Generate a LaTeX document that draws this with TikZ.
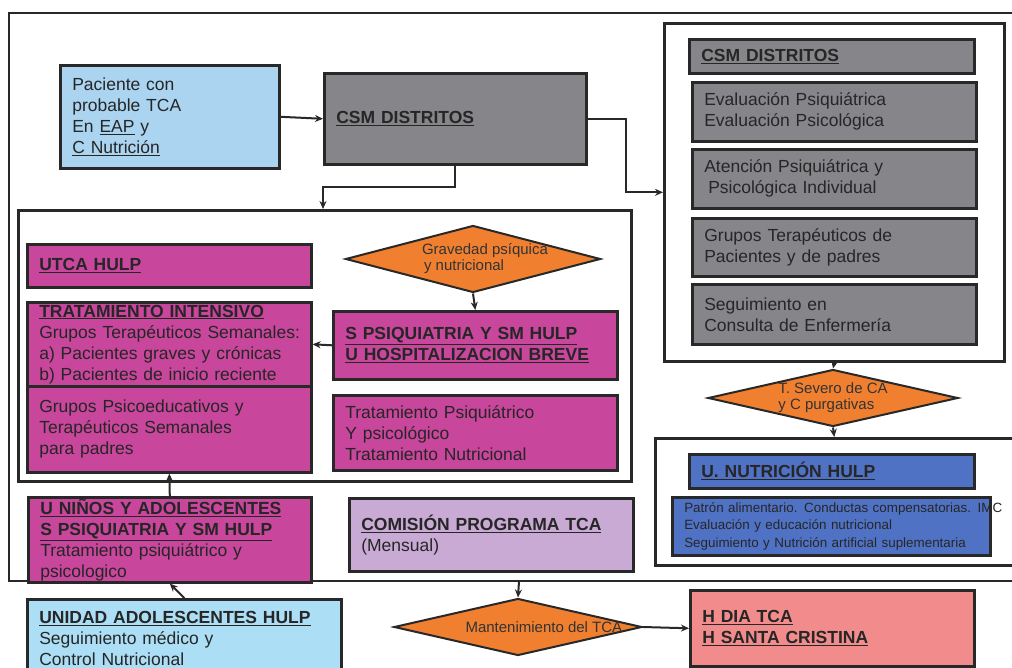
\documentclass[tikz,border=0pt]{standalone}
\usepackage{fontspec}
\setmainfont{Liberation Sans}
\usetikzlibrary{positioning,shapes,arrows,arrows.meta,calc}

\definecolor{borde}{RGB}{40,40,40}
\definecolor{azulclaro}{RGB}{170,212,240}
\definecolor{azulado}{RGB}{172,222,246}
\definecolor{gris}{RGB}{134,134,138}
\definecolor{magenta}{RGB}{200,70,155}
\definecolor{naranja}{RGB}{240,128,48}
\definecolor{lila}{RGB}{200,170,212}
\definecolor{azulnut}{RGB}{80,114,196}
\definecolor{rosa}{RGB}{242,140,140}

\newcommand{\titulo}[1]{\textbf{\underline{#1}}}
% texto corrido a la derecha dentro de un rombo
\newcommand{\corrido}[3]{\makebox[#1][l]{\hspace*{#2}#3}}

\begin{document}
\begin{tikzpicture}[x=1pt, y=-1pt,
    caja/.style={rectangle, draw=borde, line width=2.6pt, anchor=north west, align=left,
        inner xsep=12pt, inner ysep=0pt, text=black!85, font=\fontsize{17.5}{21}\selectfont},
    marco/.style={rectangle, draw=borde, line width=2.6pt, fill=white, anchor=north west, inner sep=0pt},
    decision/.style={diamond, draw=borde, line width=2pt, fill=naranja, inner sep=0pt, align=left,
        text=black!80, font=\fontsize{15}{16}\selectfont},
    flecha/.style={->, >={Stealth[length=8pt,width=7pt]}, line width=2pt, draw=borde}
]
    \useasboundingbox (0,0) rectangle (1012,668);

    % marco general
    \draw[borde, line width=2.6pt] (1012,13) -- (9,13) -- (9,581) -- (1012,581);

    \node[marco, minimum width=340pt, minimum height=338pt] (marcoder) at (663,22) {};
    \node[marco, minimum width=613pt, minimum height=271pt] (marcoizq) at (17,209) {};
    \node[marco, minimum width=358pt, minimum height=127pt] (marconut) at (654,437) {};

    % entrada
    \node[caja, fill=azulclaro, text width=195pt, minimum height=103pt] (paciente) at (59,64) {
        Paciente con\\
        probable TCA\\
        En \underline{EAP} y\\
        \underline{C Nutrición}
    };
    \node[caja, fill=gris, text width=238pt, minimum height=91pt] (csm) at (323,72) {\titulo{CSM DISTRITOS}};

    % CSM distritos
    \node[caja, fill=gris, text width=261pt, minimum height=34pt] (csmtit) at (688,38) {\titulo{CSM DISTRITOS}};
    \node[caja, fill=gris, text width=260pt, minimum height=59pt] (evaluacion) at (691,81) {
        Evaluación Psiquiátrica\\
        Evaluación Psicológica
    };
    \node[caja, fill=gris, text width=260pt, minimum height=59pt] (atencion) at (691,148) {
        Atención Psiquiátrica y\\
        \hspace*{4pt}Psicológica Individual
    };
    \node[caja, fill=gris, text width=260pt, minimum height=58pt] (grupos) at (691,217) {
        Grupos Terapéuticos de\\
        Pacientes y de padres
    };
    \node[caja, fill=gris, text width=260pt, minimum height=60pt] (seguimiento) at (691,283) {
        Seguimiento en\\
        Consulta de Enfermería
    };

    % UTCA HULP
    \node[caja, fill=magenta, text width=260pt, minimum height=43pt] (utca) at (26,243) {\titulo{UTCA HULP}};
    \node[decision, aspect=3.8, minimum width=255pt, minimum height=67pt] (gravedad) at (473,259) {
        \corrido{126pt}{12pt}{Gravedad psíquica}\\
        \corrido{126pt}{14pt}{y nutricional}
    };
    \node[caja, fill=magenta, text width=260pt, minimum height=68pt] (spsiq) at (332,310) {
        \titulo{S PSIQUIATRIA Y SM HULP}\\
        \titulo{U HOSPITALIZACION BREVE}
    };
    \node[caja, fill=magenta, text width=260pt, minimum height=84pt] (intensivo) at (26,301) {
        \titulo{TRATAMIENTO INTENSIVO}\\
        \mbox{Grupos Terapéuticos Semanales:}\\
        a) Pacientes graves y crónicas\\
        b) Pacientes de inicio reciente
    };
    \node[caja, fill=magenta, text width=260pt, minimum height=86pt] (psicoeduc) at (26,385) {
        Grupos Psicoeducativos y\\
        Terapéuticos Semanales\\
        para padres
    };
    \node[caja, fill=magenta, text width=260pt, minimum height=75pt] (tratpsiq) at (332,394) {
        Tratamiento Psiquiátrico\\
        Y psicológico\\
        Tratamiento Nutricional
    };

    % parte baja
    \node[caja, fill=magenta, text width=259pt, minimum height=85pt] (ninos) at (27,496) {
        \titulo{U NIÑOS Y ADOLESCENTES}\\
        \titulo{S PSIQUIATRIA Y SM HULP}\\
        Tratamiento psiquiátrico y\\
        psicologico
    };
    \node[caja, fill=lila, text width=260pt, minimum height=73pt] (comision) at (348,497) {
        \titulo{COMISIÓN PROGRAMA TCA}\\
        (Mensual)
    };
    \node[caja, fill=azulado, text width=290pt, minimum height=78pt] (adolescentes) at (26,598) {
        \titulo{UNIDAD ADOLESCENTES HULP}\\
        Seguimiento médico y\\
        Control Nutricional
    };
    \node[decision, aspect=4.35, minimum width=248pt, minimum height=57pt] (mantenimiento) at (518,627) {\corrido{157pt}{26pt}{Mantenimiento del TCA}};
    \node[caja, fill=rosa, text width=260pt, minimum height=76pt] (hdia) at (689,589) {
        \titulo{H DIA TCA}\\
        \titulo{H SANTA CRISTINA}
    };

    % nutricion
    \node[decision, aspect=4.4, minimum width=250pt, minimum height=57pt] (severo) at (833,398) {
        T. Severo de CA\\
        y C purgativas
    };
    \node[caja, fill=azulnut, text width=261pt, minimum height=34pt] (nutricion) at (688,453) {\titulo{U. NUTRICIÓN HULP}};
    \node[caja, fill=azulnut, text width=294pt, minimum height=58pt, font=\fontsize{13.4}{17.5}\selectfont] (detalle) at (671,496) {
        \mbox{Patrón alimentario. Conductas compensatorias. IMC}\\
        Evaluación y educación nutricional\\
        Seguimiento y Nutrición artificial suplementaria
    };

    \coordinate (mbase) at (519,581);

    \draw[flecha] (paciente.east) -- (csm.west);
    \draw[flecha] (csm.south) -- ++(0,21) -| (csm.west |- marcoizq.north);
    \draw[flecha] (csm.east) -- ++(38,0) |- (marcoder.west);
    \draw[flecha] (gravedad.south) -- (spsiq.north);
    \draw[flecha] (spsiq.west) -- (intensivo.east);
    \draw[flecha] (ninos.north) -- (psicoeduc.south);
    \draw[flecha] (adolescentes.north) -- (ninos.south);
    \draw[flecha] (mbase) -- (mantenimiento.north);
    \draw[flecha] (mantenimiento.east) -- (hdia.west);
    \draw[flecha] (marcoder.south) -- (severo.north);
    \draw[flecha] (severo.south) -- (marconut.north);
\end{tikzpicture}
\end{document}
